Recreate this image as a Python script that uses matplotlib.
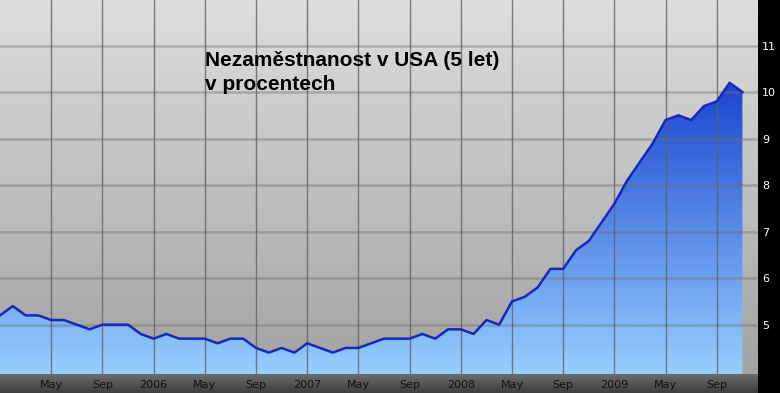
import numpy as np
import matplotlib
matplotlib.use("Agg")
import matplotlib.pyplot as plt
from matplotlib.colors import LinearSegmentedColormap

# mesicni nezamestnanost v USA, leden 2005 - listopad 2009
hodnoty_2005 = [5.2, 5.4, 5.2, 5.2, 5.1, 5.1, 5.0, 4.9, 5.0, 5.0, 5.0, 4.8]
hodnoty_2006 = [4.7, 4.8, 4.7, 4.7, 4.7, 4.6, 4.7, 4.7, 4.5, 4.4, 4.5, 4.4]
hodnoty_2007 = [4.6, 4.5, 4.4, 4.5, 4.5, 4.6, 4.7, 4.7, 4.7, 4.8, 4.7, 4.9]
hodnoty_2008 = [4.9, 4.8, 5.1, 5.0, 5.5, 5.6, 5.8, 6.2, 6.2, 6.6, 6.8, 7.2]
hodnoty_2009 = [7.6, 8.1, 8.5, 8.9, 9.4, 9.5, 9.4, 9.7, 9.8, 10.2, 10.0]

popisky_x = ["May", "Sep", "2006", "May", "Sep", "2007", "May", "Sep",
             "2008", "May", "Sep", "2009", "May", "Sep"]
pozice_x = [4, 8, 12, 16, 20, 24, 28, 32, 36, 40, 44, 48, 52, 56]
popisky_y = [5, 6, 7, 8, 9, 10, 11]
titulek = ["Nezaměstnanost v USA (5 let)", "v procentech"]

hodnoty = np.array(hodnoty_2005 + hodnoty_2006 + hodnoty_2007 + hodnoty_2008 + hodnoty_2009)
mesice = np.arange(len(hodnoty))

W, H = 780, 393
fig = plt.figure(figsize=(W / 100, H / 100), dpi=100, facecolor="black")

plot_w = 758 / W
pas_h = 19 / H
ax = fig.add_axes([0, pas_h, plot_w, 1 - pas_h])
ymin, ymax = 3.94, 11.98
xmin, xmax = 0, 758 / 12.8
ax.set_xlim(xmin, xmax)
ax.set_ylim(ymin, ymax)

# sede pozadi s prechodem
pozadi = LinearSegmentedColormap.from_list("poz", ["#a2a2a2", "#dedede"])
grad = np.linspace(0, 1, 256).reshape(-1, 1)
ax.imshow(grad, cmap=pozadi, aspect="auto", origin="lower",
          extent=[xmin, xmax, ymin, ymax], zorder=0)

# modra plocha s prechodem, orizla podle krivky
modra = LinearSegmentedColormap.from_list("modra", ["#96ceff", "#1a46d0"])
vypln = ax.fill_between(mesice, hodnoty, ymin, color="none", lw=0, zorder=1)
obr = ax.imshow(grad, cmap=modra, aspect="auto", origin="lower",
                extent=[xmin, xmax, ymin, hodnoty.max()], zorder=1)
obr.set_clip_path(vypln.get_paths()[0], transform=ax.transData)

# mrizka
for y in popisky_y:
    ax.axhline(y, color="#707070", alpha=0.42, lw=1.8, zorder=2)
for x in pozice_x:
    ax.axvline(x, color="#606060", alpha=0.8, lw=1, zorder=2)

ax.plot(mesice, hodnoty, color="#1628b8", lw=1.8, zorder=3, solid_joinstyle="round")

ax.yaxis.tick_right()
ax.set_yticks(popisky_y)
ax.set_yticklabels([str(v) for v in popisky_y], color="white", fontsize=8)
ax.set_xticks(pozice_x)
ax.set_xticklabels(popisky_x, color="#111111", fontsize=8)
ax.tick_params(axis="both", length=0)
ax.tick_params(axis="y", pad=3)
ax.tick_params(axis="x", pad=4)
for s in ax.spines.values():
    s.set_visible(False)

# tmavy pas pod grafem
ax_pas = fig.add_axes([0, 0, plot_w, pas_h], zorder=-1)
ax_pas.imshow(grad, cmap=LinearSegmentedColormap.from_list("pas", ["#3e3e3e", "#6c6c6c"]),
              aspect="auto", origin="lower", extent=[0, 1, 0, 1])
ax_pas.axis("off")

fig.text(205 / W, 1 - 66 / H, titulek[0], fontsize=15, fontweight="bold",
         family="Liberation Sans", va="baseline", ha="left")
fig.text(205 / W, 1 - 90 / H, titulek[1], fontsize=15, fontweight="bold",
         family="Liberation Sans", va="baseline", ha="left")

fig.savefig("out.png", dpi=100, facecolor="black")
